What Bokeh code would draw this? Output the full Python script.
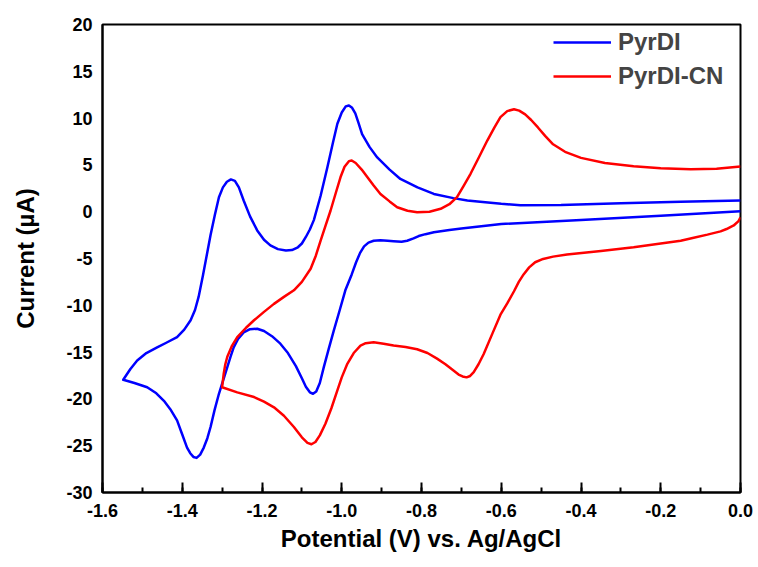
from bokeh.plotting import figure
from bokeh.models import FixedTicker, Range1d, Legend, LegendItem, NumeralTickFormatter
from bokeh.embed import file_html
from bokeh.resources import INLINE

# PyrDI: cathodic branch (0 V -> -1.55 V) followed by anodic branch (-1.55 V -> 0 V)
pyrdi_v = [0.0, -0.2, -0.4, -0.6, -0.70, -0.73, -0.769, -0.79, -0.807, -0.82, -0.836,
           -0.85, -0.87, -0.885, -0.903, -0.92, -0.933, -0.944, -0.954, -0.964, -0.975,
           -0.991, -1.005, -1.02, -1.033, -1.045, -1.055, -1.064, -1.072, -1.08, -1.09,
           -1.10, -1.115, -1.135, -1.154, -1.175, -1.195, -1.212, -1.23, -1.246, -1.26,
           -1.271, -1.279, -1.287, -1.298, -1.308, -1.319, -1.329, -1.337, -1.346, -1.355,
           -1.364, -1.372, -1.38, -1.388, -1.40, -1.413, -1.43, -1.446, -1.465, -1.488,
           -1.52, -1.548,
           -1.53, -1.513, -1.49, -1.463, -1.44, -1.413, -1.395, -1.379, -1.368, -1.359,
           -1.348, -1.337, -1.329, -1.318, -1.308, -1.298, -1.288, -1.278, -1.268, -1.258,
           -1.246, -1.23, -1.212, -1.195, -1.179, -1.16, -1.14, -1.125, -1.11, -1.10,
           -1.09, -1.08, -1.07, -1.053, -1.036, -1.022, -1.011, -1.0, -0.99, -0.982,
           -0.974, -0.966, -0.958, -0.949, -0.93, -0.911, -0.88, -0.853, -0.81, -0.769,
           -0.72, -0.685, -0.64, -0.60, -0.552, -0.45, -0.3, -0.15, 0.0]
pyrdi_i = [0.05, -0.42, -0.88, -1.32, -1.8, -1.95, -2.2, -2.4, -2.6, -2.85, -3.1,
           -3.2, -3.15, -3.1, -3.05, -3.1, -3.3, -3.7, -4.4, -5.4, -6.7,
           -8.4, -10.5, -12.7, -14.7, -16.6, -18.3, -19.2, -19.45, -19.3, -18.7,
           -17.8, -16.5, -15.1, -14.1, -13.3, -12.75, -12.5, -12.55, -12.9, -13.6,
           -14.5, -15.5, -16.6, -18.1, -19.45, -21.2, -23.0, -24.2, -25.2, -25.95,
           -26.3, -26.2, -25.8, -25.2, -23.8, -22.3, -21.1, -20.2, -19.4, -18.75,
           -18.3, -17.96,
           -16.8, -15.9, -15.1, -14.5, -14.0, -13.4, -12.6, -11.6, -10.5, -9.1,
           -6.8, -4.3, -2.5, -0.3, 1.55, 2.6, 3.2, 3.45, 3.3, 2.6,
           1.2, -0.5, -2.0, -3.0, -3.6, -4.0, -4.15, -4.1, -3.8, -3.4,
           -2.7, -1.9, -0.9, 1.7, 4.75, 7.4, 9.4, 10.6, 11.25, 11.35,
           11.1, 10.5, 9.5, 8.3, 6.9, 5.8, 4.5, 3.5, 2.6, 1.9,
           1.45, 1.2, 1.0, 0.84, 0.7, 0.72, 0.9, 1.05, 1.2]

# PyrDI-CN: cathodic branch (0 V -> -1.30 V) followed by anodic branch (-1.30 V -> 0 V)
pyrdicn_v = [0.0, -0.005, -0.017, -0.035, -0.05, -0.083, -0.12, -0.15, -0.2, -0.268,
             -0.35, -0.435, -0.47, -0.495, -0.515, -0.53, -0.544, -0.556, -0.568, -0.585,
             -0.602, -0.622, -0.644, -0.657, -0.669, -0.678, -0.687, -0.697, -0.707, -0.719,
             -0.74, -0.761, -0.785, -0.811, -0.84, -0.87, -0.895, -0.92, -0.94, -0.953,
             -0.97, -0.986, -1.0, -1.011, -1.026, -1.041, -1.055, -1.066, -1.076, -1.086,
             -1.10, -1.12, -1.145, -1.17, -1.195, -1.22, -1.262, -1.30,
             -1.296, -1.292, -1.287, -1.275, -1.262, -1.24, -1.22, -1.195, -1.17, -1.145,
             -1.12, -1.10, -1.078, -1.065, -1.053, -1.04, -1.028, -1.015, -1.003, -0.993,
             -0.982, -0.975, -0.965, -0.95, -0.936, -0.92, -0.903, -0.88, -0.861, -0.835,
             -0.811, -0.78, -0.752, -0.73, -0.711, -0.695, -0.677, -0.655, -0.635, -0.617,
             -0.602, -0.585, -0.568, -0.555, -0.54, -0.525, -0.508, -0.49, -0.47, -0.44,
             -0.40, -0.34, -0.268, -0.2, -0.125, -0.06, 0.0]
pyrdicn_i = [-0.6, -1.0, -1.47, -1.85, -2.1, -2.45, -2.8, -3.1, -3.4, -3.8,
             -4.2, -4.57, -4.8, -5.05, -5.4, -5.95, -6.7, -7.5, -8.5, -9.8,
             -11.0, -13.0, -15.2, -16.3, -17.15, -17.55, -17.7, -17.6, -17.4, -17.0,
             -16.3, -15.7, -15.1, -14.7, -14.45, -14.3, -14.1, -13.95, -14.05, -14.3,
             -15.1, -16.25, -17.7, -19.1, -21.0, -22.66, -23.9, -24.6, -24.85, -24.7,
             -24.1, -23.0, -21.8, -20.9, -20.3, -19.8, -19.3, -18.75,
             -17.3, -16.3, -15.5, -14.3, -13.4, -12.4, -11.6, -10.7, -9.85, -9.1,
             -8.4, -7.5, -6.1, -4.7, -3.1, -1.4, 0.13, 2.0, 3.7, 4.8,
             5.4, 5.47, 5.2, 4.5, 3.7, 2.8, 1.9, 1.1, 0.48, 0.1,
             -0.05, 0.0, 0.31, 0.8, 1.55, 2.7, 4.05, 5.9, 7.6, 9.0,
             10.1, 10.75, 10.95, 10.8, 10.4, 9.8, 9.0, 8.1, 7.2, 6.4,
             5.75, 5.2, 4.85, 4.65, 4.54, 4.6, 4.83]

x_ticks = [-1.6, -1.4, -1.2, -1.0, -0.8, -0.6, -0.4, -0.2, 0.0]
x_minor = [-1.6, -1.5, -1.4, -1.3, -1.2, -1.1, -1.0, -0.9, -0.8, -0.7, -0.6, -0.5,
           -0.4, -0.3, -0.2, -0.1, 0.0]
y_ticks = [-30, -25, -20, -15, -10, -5, 0, 5, 10, 15, 20]

FONT = "Liberation Sans"

p = figure(width=758, height=567, output_backend="svg", toolbar_location=None,
           x_range=Range1d(-1.6, 0.0), y_range=Range1d(-30, 20),
           min_border_left=102, min_border_right=18, min_border_top=24,
           min_border_bottom=75)

p.xgrid.visible = False
p.ygrid.visible = False
p.outline_line_color = "black"
p.outline_line_width = 2
p.background_fill_color = "white"
p.border_fill_color = "white"

r1 = p.line(pyrdi_v, pyrdi_i, line_color="#0000FF", line_width=2.5, line_join="round")
r2 = p.line(pyrdicn_v, pyrdicn_i, line_color="#FF0000", line_width=2.5, line_join="round")

xa = p.xaxis[0]
xa.ticker = FixedTicker(ticks=x_ticks, minor_ticks=x_minor)
xa.formatter = NumeralTickFormatter(format="0.0")
xa.axis_label = "Potential (V) vs. Ag/AgCl"
xa.major_tick_in = 10
xa.major_tick_out = 0
xa.minor_tick_in = 5
xa.minor_tick_out = 0
xa.major_tick_line_width = 2
xa.minor_tick_line_width = 2
xa.axis_line_width = 2
xa.major_label_standoff = 11
xa.axis_label_standoff = 5

ya = p.yaxis[0]
ya.ticker = FixedTicker(ticks=y_ticks)
ya.formatter = NumeralTickFormatter(format="0")
ya.axis_label = "Current (µA)"
ya.major_tick_in = 0
ya.major_tick_out = 0
ya.minor_tick_in = 0
ya.minor_tick_out = 0
ya.axis_line_width = 2
ya.major_label_standoff = 10
ya.axis_label_standoff = 24

for ax in (xa, ya):
    ax.major_label_text_font = FONT
    ax.major_label_text_font_style = "bold"
    ax.major_label_text_font_size = "18px"
    ax.major_label_text_color = "black"
    ax.axis_label_text_font = FONT
    ax.axis_label_text_font_style = "bold"
    ax.axis_label_text_font_size = "24px"
    ax.axis_label_text_color = "black"
    ax.axis_line_color = "black"
    ax.major_tick_line_color = "black"
    ax.minor_tick_line_color = "black"

legend = Legend(items=[LegendItem(label="PyrDI", renderers=[r1]),
                       LegendItem(label="PyrDI-CN", renderers=[r2])],
                location=(451, 402), orientation="vertical")
legend.label_text_font = FONT
legend.label_text_font_style = "bold"
legend.label_text_font_size = "24px"
legend.glyph_width = 58
legend.glyph_height = 26
legend.label_height = 26
legend.spacing = 6
legend.padding = 5
legend.margin = 0
legend.label_standoff = 7
legend.border_line_color = None
legend.background_fill_alpha = 0
p.add_layout(legend)

open("out.html", "w").write(file_html(p, INLINE))
